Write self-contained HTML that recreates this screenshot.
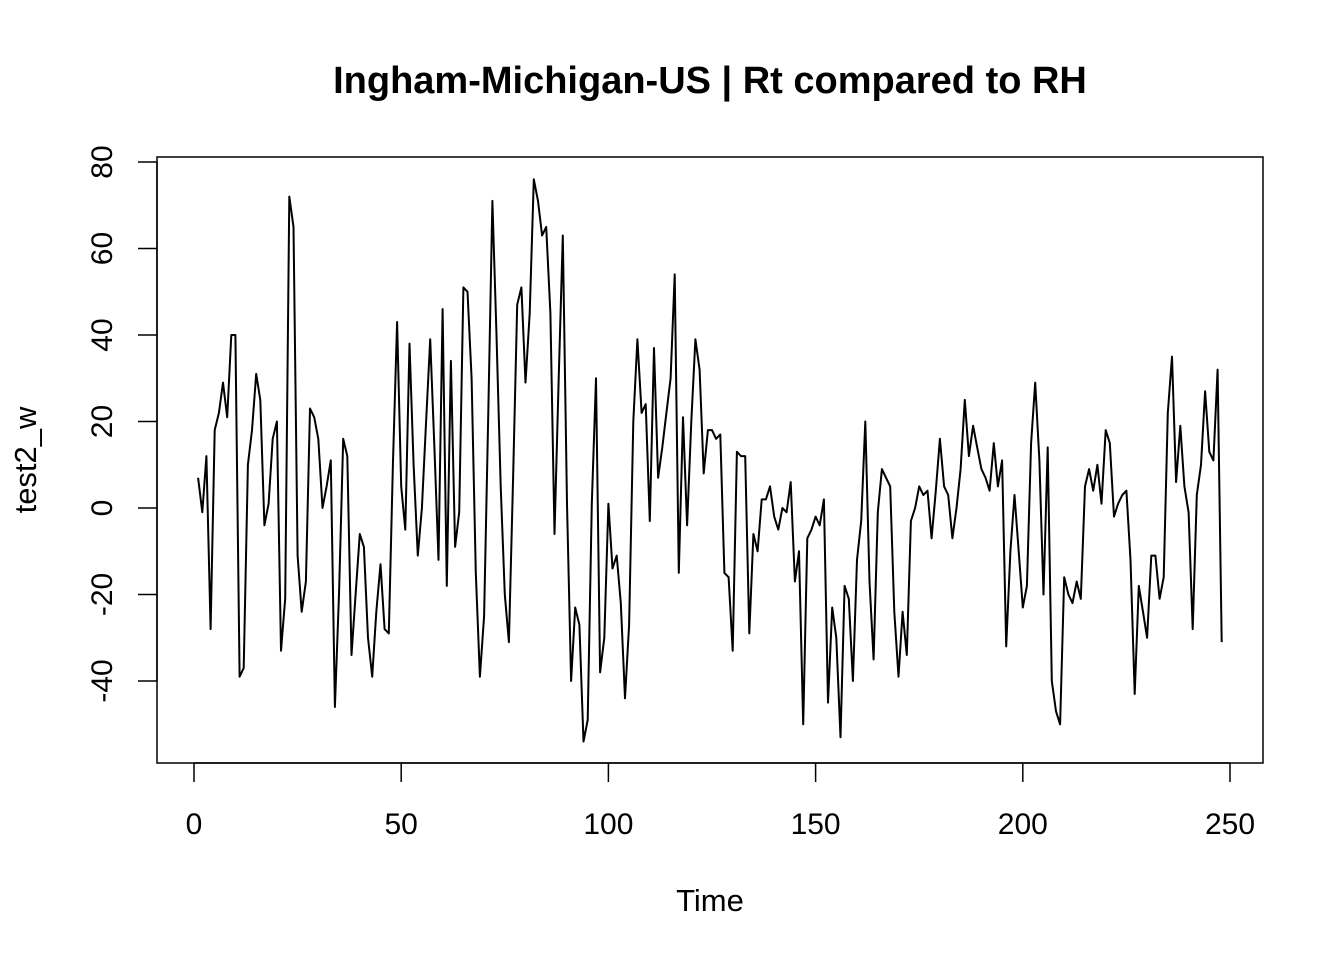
<!DOCTYPE html>
<html><head><meta charset="utf-8"><style>
body{margin:0;background:#fff}
svg text{font-family:"Liberation Sans",Arial,sans-serif;fill:#000}
</style></head><body>
<svg id="chart" width="1344" height="960" viewBox="0 0 1344 960" xmlns="http://www.w3.org/2000/svg">
<rect width="1344" height="960" fill="#fff"/>
<text x="710" y="93" text-anchor="middle" font-size="38" font-weight="bold">Ingham-Michigan-US | Rt compared to RH</text>
<rect x="157" y="157" width="1106" height="606" fill="none" stroke="#000" stroke-width="1.5"/>
<g id="xaxis"></g>
<g id="yaxis"></g>
<text x="710" y="911" text-anchor="middle" font-size="31">Time</text>
<text transform="translate(36,460) rotate(-90)" text-anchor="middle" font-size="31">test2_w</text>
<path id="series" fill="none" stroke="#000" stroke-width="2" stroke-linejoin="round"/>
</svg>
<script>
const values = [7,-1,12,-28,18,22,29,21,40,40,-39,-37,10,18,31,25,-4,1,16,20,-33,-21,72,65,-11,-24,-17,23,21,16,0,5,11,-46,-20,16,12,-34,-20,-6,-9,-30,-39,-24,-13,-28,-29,10,43,5,-5,38,10,-11,0,20,39,14,-12,46,-18,34,-9,-1,51,50,30,-15,-39,-25,21,71,40,5,-20,-31,7,47,51,29,45,76,71,63,65,45,-6,30,63,1,-40,-23,-27,-54,-49,1,30,-38,-30,1,-14,-11,-22,-44,-27,20,39,22,24,-3,37,7,14,22,30,54,-15,21,-4,20,39,32,8,18,18,16,17,-15,-16,-33,13,12,12,-29,-6,-10,2,2,5,-2,-5,0,-1,6,-17,-10,-50,-7,-5,-2,-4,2,-45,-23,-30,-53,-18,-21,-40,-12,-3,20,-17,-35,-1,9,7,5,-24,-39,-24,-34,-3,0,5,3,4,-7,4,16,5,3,-7,0,9,25,12,19,14,9,7,4,15,5,11,-32,-10,3,-10,-23,-18,15,29,11,-20,14,-40,-47,-50,-16,-20,-22,-17,-21,5,9,4,10,1,18,15,-2,1,3,4,-12,-43,-18,-24,-30,-11,-11,-21,-16,22,35,6,19,5,-1,-28,3,10,27,13,11,32,-31];
const xTicks = [0,50,100,150,200,250];
const yTicks = [-40,-20,0,20,40,60,80];
const X = t => 194 + (t/250)*(1230-194);
const Y = v => 508 - v*(508-162)/80;
const NS = "http://www.w3.org/2000/svg";
let d = values.map((v,i)=>(i?'L':'M')+X(i+1).toFixed(1)+','+Y(v).toFixed(1)).join('');
document.getElementById('series').setAttribute('d', d);
const xa = document.getElementById('xaxis');
const xl = document.createElementNS(NS,'line');


xl.setAttribute('x1',X(0));xl.setAttribute('x2',X(250));xl.setAttribute('y1',763);xl.setAttribute('y2',763);xl.setAttribute('stroke','#000');xl.setAttribute('stroke-width','1.5');
xa.appendChild(xl);
xTicks.forEach(t=>{
  const l=document.createElementNS(NS,'line');
  
  
  l.setAttribute('x1',X(t));l.setAttribute('x2',X(t));l.setAttribute('y1',763);l.setAttribute('y2',782);l.setAttribute('stroke','#000');l.setAttribute('stroke-width','1.5');
  xa.appendChild(l);
  const tx=document.createElementNS(NS,'text');
  
  
  tx.setAttribute('x',X(t));tx.setAttribute('y',834);tx.setAttribute('text-anchor','middle');tx.setAttribute('font-size','30');
  tx.textContent=t;xa.appendChild(tx);
});
const ya = document.getElementById('yaxis');
const yl = document.createElementNS(NS,'line');


yl.setAttribute('x1',157);yl.setAttribute('x2',157);yl.setAttribute('y1',Y(-40));yl.setAttribute('y2',Y(80));yl.setAttribute('stroke','#000');yl.setAttribute('stroke-width','1.5');
ya.appendChild(yl);
yTicks.forEach(v=>{
  const l=document.createElementNS(NS,'line');
  
  
  l.setAttribute('x1',138);l.setAttribute('x2',157);l.setAttribute('y1',Y(v));l.setAttribute('y2',Y(v));l.setAttribute('stroke','#000');l.setAttribute('stroke-width','1.5');
  ya.appendChild(l);
  const tx=document.createElementNS(NS,'text');
  
  
  tx.setAttribute('transform','translate(112,'+Y(v)+') rotate(-90)');tx.setAttribute('text-anchor','middle');tx.setAttribute('font-size','30');
  tx.textContent=v;ya.appendChild(tx);
});
</script>
</body></html>
